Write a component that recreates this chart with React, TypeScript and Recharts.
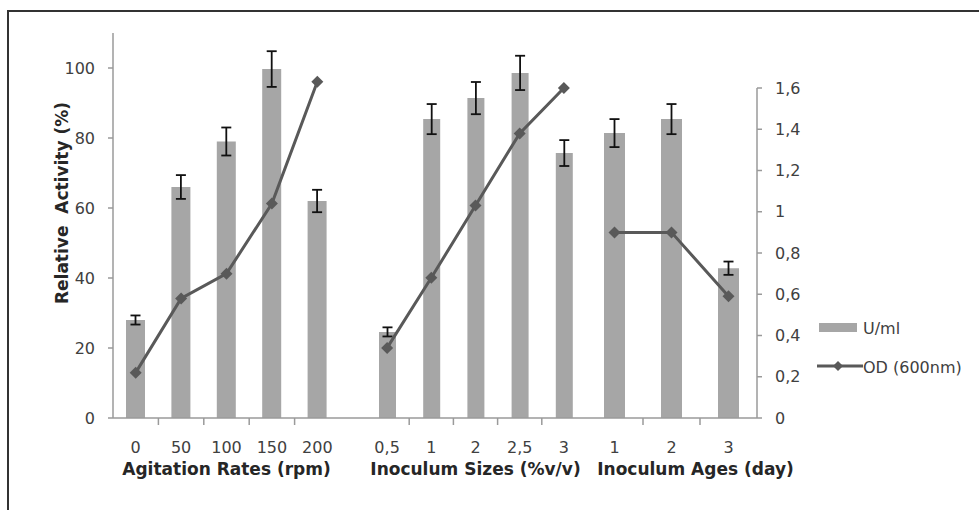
import React from "react";
import { Bar, ComposedChart, ErrorBar, Legend, Line, XAxis, YAxis } from "recharts";

// values
const agitationLabels = ["0", "50", "100", "150", "200"];
const agitationActivity = [28, 66, 79, 99.7, 62];
const agitationError = [1.3, 3.4, 4, 5.1, 3.2];
const agitationOD = [0.22, 0.58, 0.7, 1.04, 1.63];

const sizeLabels = ["0,5", "1", "2", "2,5", "3"];
const sizeActivity = [24.6, 85.4, 91.4, 98.6, 75.7];
const sizeError = [1.3, 4.3, 4.6, 4.9, 3.7];
const sizeOD = [0.34, 0.68, 1.03, 1.38, 1.6];

const ageLabels = ["1", "2", "3"];
const ageActivity = [81.4, 85.4, 42.8];
const ageError = [4, 4.3, 1.9];
const ageOD = [0.9, 0.9, 0.59];

const activityTicks = [0, 20, 40, 60, 80, 100];
const odTicks = [0, 0.2, 0.4, 0.6, 0.8, 1, 1.2, 1.4, 1.6];

const groupTitles = ["Agitation Rates (rpm)", "Inoculum Sizes (%v/v)", "Inoculum Ages (day)"];
const yTitle = "Relative  Activity (%)";
const barName = "U/ml";
const lineName = "OD (600nm)";

type Row = { name: string; activity: number; error: number; od: number };

const buildRows = (labels: string[], activity: number[], error: number[], od: number[]): Row[] =>
  labels.map((name, i) => ({ name, activity: activity[i], error: error[i], od: od[i] }));

const agitationRows = buildRows(agitationLabels, agitationActivity, agitationError, agitationOD);
const sizeRows = buildRows(sizeLabels, sizeActivity, sizeError, sizeOD);
const ageRows = buildRows(ageLabels, ageActivity, ageError, ageOD);

// layout
const H = 510;
const PLOT_BOTTOM = 418;
const X_AXIS_H = 60;
const TOP_ACT = 33; // where 110 sits on the left axis
const TOP_OD = 88; // where 1,6 sits on the right axis
const ACT_SCALE = (PLOT_BOTTOM - TOP_ACT) / 110;
const OD_SCALE = (PLOT_BOTTOM - TOP_OD) / 1.6;

const FONT = "'DejaVu Sans', Verdana, sans-serif";
const AXIS = "#9a9a9a";
const TICK = "#404040";
const TITLE = "#262626";
const BAR = "#a6a6a6";
const LINE = "#595959";

const Diamond = ({ cx, cy, r = 6 }: { cx: number; cy: number; r?: number }) => (
  <polygon points={`${cx},${cy - r} ${cx + r},${cy} ${cx},${cy + r} ${cx - r},${cy}`} fill={LINE} />
);

const odFormat = (v: number) => String(v).replace(".", ",");

const renderLegend = () => (
  <svg width={170} height={70} style={{ display: "block" }}>
    <rect x={2} y={11} width={38} height={9} fill={BAR} />
    <text x={46} y={16} dominantBaseline="central" fontSize={16} fontFamily={FONT} fill={TICK}>
      {barName}
    </text>
    <line x1={0} x2={46} y1={54} y2={54} stroke={LINE} strokeWidth={3} />
    <Diamond cx={21} cy={54} r={5} />
    <text x={46} y={55} dominantBaseline="central" fontSize={16} fontFamily={FONT} fill={TICK}>
      {lineName}
    </text>
  </svg>
);

interface GroupProps {
  rows: Row[];
  title: string;
  left: number;
  plotWidth: number;
  leftAxisWidth?: number;
  rightAxisWidth?: number;
  padRight?: number;
  titleShift?: number;
  barSize: number;
}

function GroupChart({
  rows,
  title,
  left,
  plotWidth,
  leftAxisWidth = 0,
  rightAxisWidth = 0,
  padRight = 0,
  titleShift = 0,
  barSize,
}: GroupProps) {
  const showLeft = leftAxisWidth > 0;
  const showRight = rightAxisWidth > 0;
  const top = showRight ? TOP_OD : TOP_ACT;
  const plotH = PLOT_BOTTOM - top;
  const band = (plotWidth - padRight) / rows.length;
  const width = leftAxisWidth + plotWidth + rightAxisWidth;

  const CategoryTick = (props: any) => {
    const { x, y, payload, index } = props;
    return (
      <g>
        {index < rows.length - 1 && (
          <line x1={x + band / 2} x2={x + band / 2} y1={PLOT_BOTTOM} y2={PLOT_BOTTOM + 7} stroke={AXIS} strokeWidth={1.5} />
        )}
        <text x={x} y={y} dy="0.71em" textAnchor="middle" fontSize={16} fontFamily={FONT} fill={TICK}>
          {payload.value}
        </text>
      </g>
    );
  };

  return (
    <div style={{ position: "absolute", left, top: 0, width, height: H }}>
      <ComposedChart
        width={width}
        height={H}
        data={rows}
        margin={{ top, right: 0, bottom: H - PLOT_BOTTOM - X_AXIS_H, left: 0 }}
      >
        <XAxis
          dataKey="name"
          height={X_AXIS_H}
          padding={{ left: 0, right: padRight }}
          axisLine={{ stroke: AXIS, strokeWidth: 1.5 }}
          tickLine={false}
          tickSize={0}
          tickMargin={24}
          interval={0}
          tick={<CategoryTick />}
          label={() => (
            <text
              x={leftAxisWidth + (plotWidth - padRight) / 2 + titleShift}
              y={PLOT_BOTTOM + 57}
              textAnchor="middle"
              fontSize={17}
              fontWeight="bold"
              fontFamily={FONT}
              fill={TITLE}
            >
              {title}
            </text>
          )}
        />
        <YAxis
          yAxisId="act"
          hide={!showLeft}
          width={leftAxisWidth}
          type="number"
          domain={[0, plotH / ACT_SCALE]}
          allowDataOverflow
          ticks={activityTicks}
          interval={0}
          tickSize={5}
          tickMargin={13}
          axisLine={{ stroke: AXIS, strokeWidth: 1.5 }}
          tickLine={{ stroke: AXIS, strokeWidth: 1.5 }}
          tick={{ fontSize: 16, fontFamily: FONT, fill: TICK }}
          label={() => (
            <text
              x={51}
              y={203}
              transform="rotate(-90 51 203)"
              textAnchor="middle"
              dominantBaseline="central"
              fontSize={17}
              fontWeight="bold"
              fontFamily={FONT}
              fill={TITLE}
              style={{ whiteSpace: "pre" }}
            >
              {yTitle}
            </text>
          )}
        />
        <YAxis
          yAxisId="od"
          orientation="right"
          hide={!showRight}
          width={rightAxisWidth}
          type="number"
          domain={[0, plotH / OD_SCALE]}
          allowDataOverflow
          ticks={odTicks}
          interval={0}
          tickFormatter={odFormat}
          tickSize={5}
          tickMargin={13}
          axisLine={{ stroke: AXIS, strokeWidth: 1.5 }}
          tickLine={{ stroke: AXIS, strokeWidth: 1.5 }}
          tick={{ fontSize: 16, fontFamily: FONT, fill: TICK }}
        />
        <Bar yAxisId="act" dataKey="activity" name={barName} fill={BAR} barSize={barSize} isAnimationActive={false}>
          <ErrorBar dataKey="error" direction="y" width={5} stroke="#111" strokeWidth={1.8} />
        </Bar>
        <Line
          yAxisId="od"
          type="linear"
          dataKey="od"
          name={lineName}
          stroke={LINE}
          strokeWidth={3}
          dot={(p: any) => <Diamond key={p.index} cx={p.cx} cy={p.cy} />}
          activeDot={false}
          isAnimationActive={false}
        />
        {showRight && (
          <Legend
            layout="vertical"
            align="center"
            verticalAlign="middle"
            wrapperStyle={{ left: 231, top: 312, width: 170, height: 70 }}
            content={renderLegend}
          />
        )}
      </ComposedChart>
    </div>
  );
}

export default function App() {
  return (
    <div
      style={{
        position: "absolute",
        left: 0,
        top: 0,
        width: 979,
        height: H,
        background: "#fff",
        overflow: "hidden",
      }}
    >
      <div
        style={{
          position: "absolute",
          left: 7,
          top: 10,
          right: 0,
          bottom: 0,
          borderTop: "2px solid #333",
          borderLeft: "2px solid #333",
        }}
      />
      <GroupChart rows={agitationRows} title={groupTitles[0]} left={11} leftAxisWidth={102} plotWidth={252} padRight={25} barSize={19} />
      <GroupChart rows={sizeRows} title={groupTitles[1]} left={365} plotWidth={221} barSize={17} />
      <GroupChart rows={ageRows} title={groupTitles[2]} left={586} plotWidth={171} rightAxisWidth={222} titleShift={24} barSize={21} />
    </div>
  );
}
